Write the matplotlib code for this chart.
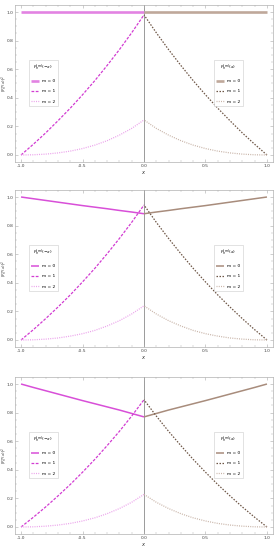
import matplotlib
matplotlib.use("Agg")
import matplotlib.pyplot as plt
from matplotlib.ticker import MultipleLocator
import numpy as np

# ---- data ----
x_left = [-1.0, -0.9, -0.8, -0.7, -0.6, -0.5, -0.4, -0.3, -0.2, -0.1, 0.0]

m0_p1 = [1.0, 1.0, 1.0, 1.0, 1.0, 1.0, 1.0, 1.0, 1.0, 1.0, 1.0]
m1_p1 = [0, 0.075, 0.154, 0.239, 0.327, 0.421, 0.520, 0.626, 0.737, 0.855, 0.98]
m2_p1 = [0, 0.0015, 0.006, 0.0145, 0.027, 0.045, 0.069, 0.100, 0.139, 0.186, 0.245]

m0_p2 = [1.0, 0.988, 0.976, 0.964, 0.952, 0.94, 0.929, 0.918, 0.906, 0.895, 0.883]
m1_p2 = [0, 0.072, 0.149, 0.230, 0.315, 0.406, 0.501, 0.603, 0.710, 0.823, 0.944]
m2_p2 = [0, 0.0014, 0.006, 0.014, 0.027, 0.044, 0.067, 0.098, 0.135, 0.182, 0.239]

m0_p3 = [1.0, 0.976, 0.953, 0.93, 0.907, 0.884, 0.862, 0.84, 0.818, 0.794, 0.77]
m1_p3 = [0, 0.068, 0.140, 0.217, 0.297, 0.383, 0.473, 0.569, 0.669, 0.776, 0.89]
m2_p3 = [0, 0.0013, 0.0057, 0.0135, 0.025, 0.042, 0.064, 0.093, 0.129, 0.173, 0.228]

panels = [(m0_p1, m1_p1, m2_p1), (m0_p2, m1_p2, m2_p2), (m0_p3, m1_p3, m2_p3)]
labels = ["m = 0", "m = 1", "m = 2"]
xticks = [-1.0, -0.5, 0.0, 0.5, 1.0]
yticks = [0.0, 0.2, 0.4, 0.6, 0.8, 1.0]

left_cols = ["#D84FD8", "#D23CD2", "#EBA0EB"]
right_cols = ["#A88C7C", "#6E5646", "#C8B4A8"]

fig = plt.figure(figsize=(2.76, 5.5), dpi=100)
W, H = 276, 550
frames = [(5, 162), (190, 347), (377, 534)]
fs = 3.2

for i, ((m0, m1, m2), (top, bot)) in enumerate(zip(panels, frames)):
    ax = fig.add_axes([15 / W, (H - bot) / H, 258 / W, (bot - top) / H])
    xl = np.array(x_left)
    xr = -xl
    lw0 = 1.9 if i == 0 else 1.1
    c0l = "#E283E2" if i == 0 else left_cols[0]
    c0r = "#BFA89A" if i == 0 else right_cols[0]
    ax.axvline(0, color="#9a9a9a", lw=0.7, zorder=1)
    hl = []
    hl.append(ax.plot(xl, m0, color=c0l, lw=lw0, solid_capstyle="butt", zorder=3)[0])
    hl.append(ax.plot(xl, m1, color=left_cols[1], lw=0.9, ls=(0, (2.2, 1.2)), zorder=3)[0])
    hl.append(ax.plot(xl, m2, color=left_cols[2], lw=0.9, ls=(0, (0.8, 1.0)), zorder=3)[0])
    hr = []
    hr.append(ax.plot(xr, m0, color=c0r, lw=lw0, solid_capstyle="butt", zorder=3)[0])
    hr.append(ax.plot(xr, m1, color=right_cols[1], lw=0.9, ls=(0, (1.2, 1.2)), zorder=3)[0])
    hr.append(ax.plot(xr, m2, color=right_cols[2], lw=0.9, ls=(0, (0.8, 1.0)), zorder=3)[0])

    ax.set_xlim(-1.049, 1.049)
    ax.set_ylim(-0.049, 1.049)
    ax.set_xticks(xticks)
    ax.set_yticks(yticks)
    ax.xaxis.set_minor_locator(MultipleLocator(0.1))
    ax.yaxis.set_minor_locator(MultipleLocator(0.05))
    ax.tick_params(which="both", direction="in", top=True, right=True,
                   colors="#aaaaaa", labelcolor="#444444", labelsize=fs, pad=1.2)
    ax.tick_params(which="major", length=2.5, width=0.4)
    ax.tick_params(which="minor", length=1.3, width=0.3)
    ax.set_xticklabels(["-1.0", "-0.5", "0.0", "0.5", "1.0"])
    ax.set_yticklabels(["0.0", "0.2", "0.4", "0.6", "0.8", "1.0"])
    for s in ax.spines.values():
        s.set_color("#b0b0b0")
        s.set_linewidth(0.5)
    ax.set_xlabel("$x$", fontsize=fs + 0.5, labelpad=1, color="#333333")
    ax.set_ylabel(r"$|P_n^{m}(x)|^2$", fontsize=2.9, color="#333333")
    ax.yaxis.set_label_coords(-0.019, 0.5)

    common = dict(fontsize=fs, title_fontsize=fs, frameon=True, fancybox=False,
                  edgecolor="#cccccc", handlelength=1.7, handletextpad=0.6,
                  labelspacing=1.4, borderpad=0.6, framealpha=1, loc="upper left")
    leg1 = ax.legend(hl, labels, title=r"$P_n^{(m)}(-x)$",
                     bbox_to_anchor=(0.045, 0.665), **common)
    leg1.get_frame().set_linewidth(0.4)
    ax.add_artist(leg1)
    leg2 = ax.legend(hr, labels, title=r"$P_n^{(m)}(x)$",
                     bbox_to_anchor=(0.762, 0.665), **common)
    leg2.get_frame().set_linewidth(0.4)

fig.savefig("out.png", dpi=100)
